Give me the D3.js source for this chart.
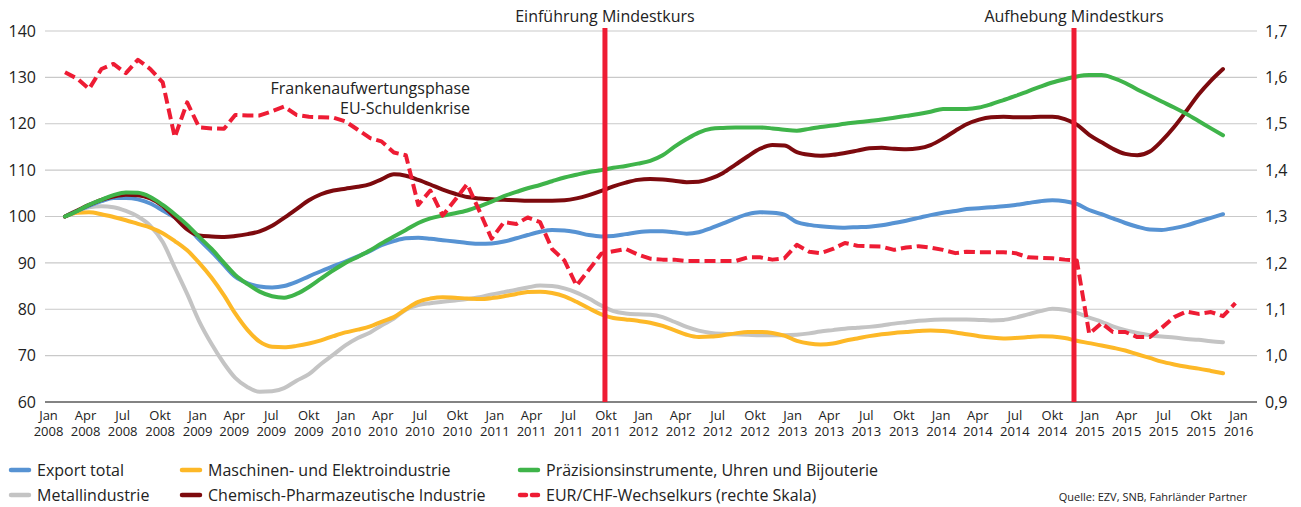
<!DOCTYPE html>
<html>
<head>
<meta charset="utf-8">
<script src="https://cdn.jsdelivr.net/npm/d3@7"></script>
<style>
  body { margin: 0; background: #fff; }
  svg { font-family: "Open Sans", sans-serif; }
</style>
</head>
<body>
<svg id="chart" width="1301" height="507"></svg>
<script>
// Exporte nach Branchen, Index Jan 2008 = 100, Monatswerte Jan 2008 - Dez 2015
var exportTotal = [
  100.0,101.2,102.3,103.3,104.0,104.0,103.7,102.8,101.3,99.8,97.8,95.0,
  92.4,89.5,87.0,85.6,84.9,84.7,85.0,85.9,87.1,88.2,89.3,90.3,
  91.4,92.6,93.8,94.7,95.3,95.4,95.2,94.9,94.6,94.3,94.1,94.2,
  94.6,95.3,96.0,96.7,97.1,97.0,96.6,96.0,95.7,95.8,96.2,96.6,
  96.8,96.8,96.6,96.3,96.6,97.5,98.5,99.6,100.5,100.9,100.8,100.4,
  98.8,98.2,97.9,97.7,97.6,97.7,97.8,98.1,98.6,99.1,99.7,100.3,
  100.8,101.2,101.6,101.8,102.0,102.2,102.5,102.9,103.3,103.5,103.3,102.7,
  101.4,100.5,99.6,98.6,97.8,97.2,97.1,97.5,98.1,98.9,99.7,100.5];

var maschinen = [
  100.0,100.8,100.9,100.5,99.9,99.2,98.4,97.6,96.4,94.7,92.7,90.0,
  86.8,83.0,79.1,75.5,73.0,71.9,71.8,72.1,72.6,73.3,74.2,75.0,
  75.6,76.3,77.3,78.3,80.0,81.6,82.3,82.6,82.5,82.3,82.2,82.4,
  82.8,83.3,83.7,83.8,83.5,82.8,81.6,80.2,78.9,78.1,77.8,77.5,
  77.1,76.4,75.5,74.5,74.0,74.1,74.4,74.8,75.1,75.1,74.9,74.3,
  73.2,72.6,72.4,72.6,73.2,73.7,74.2,74.6,74.9,75.1,75.3,75.4,
  75.3,75.0,74.6,74.2,73.9,73.7,73.8,74.0,74.2,74.1,73.8,73.2,
  72.7,72.2,71.7,71.1,70.3,69.5,68.7,68.1,67.6,67.2,66.7,66.2];

var praezision = [
  100.0,101.2,102.5,103.6,104.6,105.2,105.1,104.2,102.5,100.5,98.2,95.6,
  93.0,90.0,87.4,85.4,83.8,82.8,82.5,83.3,84.8,86.6,88.4,90.0,
  91.3,92.7,94.2,95.7,97.1,98.6,99.6,100.2,100.7,101.3,102.2,103.2,
  104.4,105.3,106.1,106.8,107.6,108.4,109.0,109.6,110.0,110.5,110.9,111.4,
  112.0,113.2,115.0,116.7,118.1,118.9,119.1,119.2,119.2,119.2,119.0,118.7,
  118.5,118.9,119.3,119.6,120.0,120.3,120.6,120.9,121.3,121.7,122.1,122.6,
  123.2,123.2,123.2,123.5,124.2,125.1,126.0,127.0,128.0,128.9,129.6,130.2,
  130.5,130.5,129.9,128.8,127.4,126.1,124.8,123.5,122.1,120.6,119.0,117.5];

var metall = [
  100.0,101.3,102.0,102.2,102.0,101.2,100.0,98.0,94.5,89.0,83.3,77.4,
  72.5,68.3,65.2,63.2,62.2,62.3,63.0,64.6,66.0,68.2,70.2,72.2,
  73.8,75.0,76.5,78.0,79.9,80.9,81.3,81.6,81.9,82.2,82.6,83.2,
  83.7,84.2,84.7,85.1,85.0,84.5,83.6,82.3,80.8,79.6,79.1,78.9,
  78.8,78.3,77.3,76.2,75.4,74.9,74.7,74.6,74.5,74.4,74.4,74.4,
  74.5,74.8,75.2,75.5,75.8,76.0,76.2,76.5,76.9,77.2,77.5,77.7,
  77.8,77.8,77.8,77.7,77.6,77.7,78.2,78.9,79.6,80.1,79.9,79.2,
  78.2,77.3,76.3,75.5,74.9,74.4,74.1,73.9,73.6,73.4,73.1,72.9];

var chemie = [
  100.0,101.3,102.5,103.6,104.3,104.7,104.6,103.9,102.3,99.8,97.2,95.9,
  95.7,95.6,95.8,96.2,96.8,98.0,99.7,101.6,103.5,104.8,105.6,106.0,
  106.4,107.0,108.0,109.1,108.8,107.9,106.9,105.8,104.9,104.2,103.9,103.7,
  103.6,103.5,103.4,103.4,103.4,103.5,103.9,104.6,105.5,106.5,107.3,107.9,
  108.1,108.0,107.7,107.4,107.5,108.2,109.4,111.2,113.0,114.6,115.4,115.3,
  113.9,113.3,113.1,113.3,113.7,114.2,114.7,114.8,114.6,114.5,114.7,115.4,
  116.8,118.5,119.9,120.9,121.4,121.5,121.4,121.4,121.5,121.5,121.0,119.8,
  117.6,116.0,114.6,113.5,113.2,114.0,116.3,119.3,122.8,126.3,129.3,131.8];

// EUR/CHF Monatsendkurse Jan 2008 - Jan 2016 (rechte Skala)
var eurChf = [
  1.611,1.597,1.575,1.618,1.629,1.609,1.638,1.618,1.589,1.471,1.546,1.492,
  1.490,1.489,1.519,1.518,1.518,1.527,1.537,1.519,1.515,1.514,1.513,1.505,
  1.487,1.469,1.462,1.438,1.432,1.325,1.356,1.302,1.336,1.370,1.311,1.252,
  1.288,1.284,1.298,1.288,1.230,1.205,1.151,1.185,1.220,1.225,1.230,1.218,
  1.209,1.207,1.207,1.204,1.204,1.204,1.204,1.204,1.212,1.212,1.207,1.210,
  1.239,1.224,1.221,1.230,1.243,1.237,1.236,1.235,1.228,1.233,1.236,1.233,
  1.228,1.221,1.224,1.223,1.223,1.223,1.221,1.212,1.211,1.210,1.207,1.205,
  1.047,1.070,1.051,1.051,1.040,1.040,1.060,1.083,1.095,1.090,1.094,1.085,
  1.113];

var leftTicks = [60, 70, 80, 90, 100, 110, 120, 130, 140];
var rightTicks = [0.9, 1.0, 1.1, 1.2, 1.3, 1.4, 1.5, 1.6, 1.7];
var monthNames = ['Jan', 'Feb', 'Mrz', 'Apr', 'Mai', 'Jun', 'Jul', 'Aug', 'Sep', 'Okt', 'Nov', 'Dez'];

var events = [
  { date: new Date(2011, 8, 10), label: 'Einführung Mindestkurs' },
  { date: new Date(2014, 10, 24), label: 'Aufhebung Mindestkurs' }
];

var series = [
  { name: 'Metallindustrie', values: metall, color: '#c4c4c4' },
  { name: 'Maschinen- und Elektroindustrie', values: maschinen, color: '#fdb827' },
  { name: 'Export total', values: exportTotal, color: '#5793d3' },
  { name: 'Chemisch-Pharmazeutische Industrie', values: chemie, color: '#7d0a0e' },
  { name: 'Präzisionsinstrumente, Uhren und Bijouterie', values: praezision, color: '#3fb44a' }
];

var months = d3.timeMonth.range(new Date(2008, 0, 1), new Date(2016, 1, 1)); // 97 months

// plot box (note: "top" is reserved on window, so plot* names)
var plotLeft = 45, plotRight = 1257, plotTop = 31, plotBottom = 402;

var svg = d3.select('#chart');

// data scale and the (slightly offset) label axis, as in the original
var x = d3.scaleTime()
  .domain([new Date(2008, 0, 1), new Date(2015, 11, 1)])
  .range([65, 1223]);
var xLabels = d3.scaleTime()
  .domain([new Date(2008, 0, 1), new Date(2016, 0, 1)])
  .range([48, 1238]);

var y = d3.scaleLinear().domain([60, 140]).range([plotBottom, plotTop]);
var y2 = d3.scaleLinear().domain([0.9, 1.7]).range([plotBottom, plotTop]);

var de = d3.formatLocale({ decimal: ',', thousands: '.', grouping: [3], currency: ['', ' CHF'] });

// gridlines
svg.append('g').selectAll('line')
  .data(leftTicks.slice(1))
  .enter().append('line')
  .attr('x1', plotLeft).attr('x2', plotRight)
  .attr('y1', function (d) { return y(d); })
  .attr('y2', function (d) { return y(d); })
  .attr('stroke', '#c9c9c9')
  .attr('stroke-width', 1.2);

svg.append('line')
  .attr('x1', plotLeft).attr('x2', plotRight)
  .attr('y1', plotBottom).attr('y2', plotBottom)
  .attr('stroke', '#5a5a5a')
  .attr('stroke-width', 1.5);

// left axis
var yAxis = svg.append('g')
  .attr('transform', 'translate(36,0)')
  .call(d3.axisLeft(y).tickValues(leftTicks).tickSize(0).tickPadding(0));
yAxis.select('.domain').remove();
yAxis.selectAll('text').attr('font-size', 16).attr('fill', '#222').attr('font-family', 'Open Sans');

// right axis
var y2Axis = svg.append('g')
  .attr('transform', 'translate(1265,0)')
  .call(d3.axisRight(y2).tickValues(rightTicks).tickSize(0).tickPadding(0).tickFormat(de.format('.1f')));
y2Axis.select('.domain').remove();
y2Axis.selectAll('text').attr('font-size', 16).attr('fill', '#222').attr('font-family', 'Open Sans');

// bottom axis, two-line labels
var xAxis = svg.append('g')
  .attr('transform', 'translate(0,' + (plotBottom + 9) + ')')
  .call(d3.axisBottom(xLabels).ticks(d3.timeMonth.every(3)).tickSize(0).tickPadding(0).tickFormat(''));
xAxis.select('.domain').remove();
xAxis.selectAll('.tick text').each(function (d) {
  var t = d3.select(this).attr('font-size', 13).attr('fill', '#222').attr('font-family', 'Open Sans');
  t.append('tspan').attr('x', 0).attr('dy', '0.71em').text(monthNames[d.getMonth()]);
  t.append('tspan').attr('x', 0).attr('dy', '1.23em').text(d.getFullYear());
});

// lines
var line = d3.line()
  .x(function (d, i) { return x(months[i]); })
  .y(function (d) { return y(d); })
  .curve(d3.curveMonotoneX);

svg.append('g').selectAll('path')
  .data(series)
  .enter().append('path')
  .attr('d', function (s) { return line(s.values); })
  .attr('fill', 'none')
  .attr('stroke', function (s) { return s.color; })
  .attr('stroke-width', 4)
  .attr('stroke-linejoin', 'round')
  .attr('stroke-linecap', 'round');

var fxLine = d3.line()
  .x(function (d, i) { return x(months[i]); })
  .y(function (d) { return y2(d); });

svg.append('path')
  .attr('d', fxLine(eurChf))
  .attr('fill', 'none')
  .attr('stroke', '#ee1c34')
  .attr('stroke-width', 4)
  .attr('stroke-dasharray', '11,5')
  .attr('stroke-linejoin', 'round');

// Mindestkurs events
var ev = svg.append('g').selectAll('g')
  .data(events)
  .enter().append('g');
ev.append('line')
  .attr('x1', function (d) { return x(d.date); })
  .attr('x2', function (d) { return x(d.date); })
  .attr('y1', 28).attr('y2', plotBottom)
  .attr('stroke', '#ee1c34')
  .attr('stroke-width', 5);
ev.append('text')
  .attr('x', function (d) { return x(d.date); })
  .attr('y', 22)
  .attr('text-anchor', 'middle')
  .attr('font-size', 16)
  .attr('fill', '#222')
  .text(function (d) { return d.label; });

// annotation
svg.append('text')
  .attr('x', 470).attr('y', 94)
  .attr('text-anchor', 'end')
  .attr('font-size', 16).attr('fill', '#222')
  .text('Frankenaufwertungsphase');
svg.append('text')
  .attr('x', 470).attr('y', 114)
  .attr('text-anchor', 'end')
  .attr('font-size', 16).attr('fill', '#222')
  .text('EU-Schuldenkrise');

// legend
var legendItems = [
  { name: 'Export total', color: '#5793d3', col: 0, row: 0 },
  { name: 'Maschinen- und Elektroindustrie', color: '#fdb827', col: 1, row: 0 },
  { name: 'Präzisionsinstrumente, Uhren und Bijouterie', color: '#3fb44a', col: 2, row: 0 },
  { name: 'Metallindustrie', color: '#c4c4c4', col: 0, row: 1 },
  { name: 'Chemisch-Pharmazeutische Industrie', color: '#7d0a0e', col: 1, row: 1 },
  { name: 'EUR/CHF-Wechselkurs (rechte Skala)', color: '#ee1c34', col: 2, row: 1, dashed: true }
];
var colX = [9, 180, 518];
var rowY = [470, 495];

var lg = svg.append('g').selectAll('g')
  .data(legendItems)
  .enter().append('g')
  .attr('transform', function (d) { return 'translate(' + colX[d.col] + ',' + rowY[d.row] + ')'; });
lg.append('line')
  .attr('x1', 2).attr('x2', 20)
  .attr('stroke', function (d) { return d.color; })
  .attr('stroke-width', 4.5)
  .attr('stroke-linecap', 'round')
  .attr('stroke-dasharray', function (d) { return d.dashed ? '6,6' : null; });
lg.append('text')
  .attr('x', 28).attr('y', 0).attr('dy', '0.35em')
  .attr('font-size', 16).attr('fill', '#222')
  .text(function (d) { return d.name; });

svg.append('text')
  .attr('x', 1247).attr('y', 501)
  .attr('text-anchor', 'end')
  .attr('font-size', 11).attr('fill', '#222')
  .text('Quelle: EZV, SNB, Fahrländer Partner');
</script>
</body>
</html>
